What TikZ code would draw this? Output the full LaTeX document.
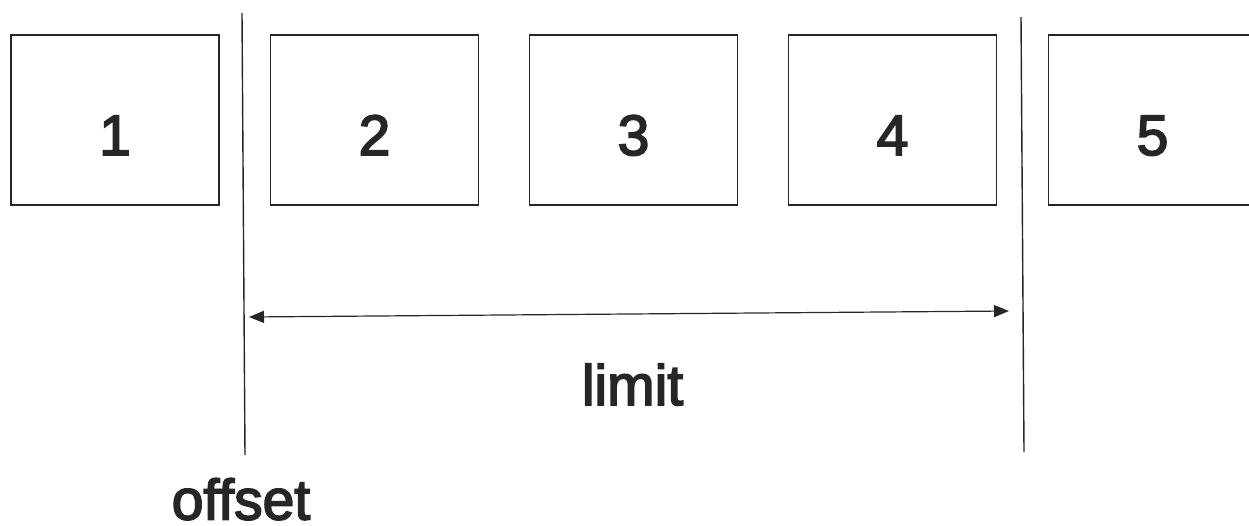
\documentclass[tikz,border=0pt]{standalone}
\usepackage{fontspec}
\setmainfont{Liberation Sans}
\newfontface\heavyface{Liberation Sans}[FakeBold=3]
\usetikzlibrary{arrows.meta}
\begin{document}
\begin{tikzpicture}[x=1pt,y=-1pt,
  cell/.style={draw=black!85,line width=1.4pt,minimum width=208pt,minimum height=170pt,inner sep=0pt,text height=70pt,text depth=0pt,font=\heavyface\fontsize{57}{60}\selectfont,text=black!85},
  divider/.style={draw=black!85,line width=1.4pt},
  lbl/.style={font=\heavyface\fontsize{57}{60}\selectfont,text=black!85,inner sep=0pt,anchor=base}]
\useasboundingbox (0,0) rectangle (1249,525);
\node[cell] (b1) at (115,120) {1};
\node[cell] (b2) at (374.5,120) {2};
\node[cell] (b3) at (633.5,120) {3};
\node[cell] (b4) at (892.5,120) {4};
\node[cell] (b5) at (1152.5,120) {5};
\coordinate (l1t) at (242,13);
\coordinate (l1b) at (245,455);
\coordinate (l2t) at (1021,17);
\coordinate (l2b) at (1024,452);
\draw[divider] (l1t) -- (l1b);
\draw[divider] (l2t) -- (l2b);
\coordinate (al) at (249,317);
\coordinate (ar) at (1009,311);
\draw[divider,line width=1.2pt,{Triangle[length=15pt,width=12pt]}-{Triangle[length=15pt,width=12pt]}] (al) -- (ar);
\node[lbl] (limit) at (632.5,405) {limit};
\node[lbl] (offset) at (241,519.5) {offset};
\end{tikzpicture}
\end{document}
